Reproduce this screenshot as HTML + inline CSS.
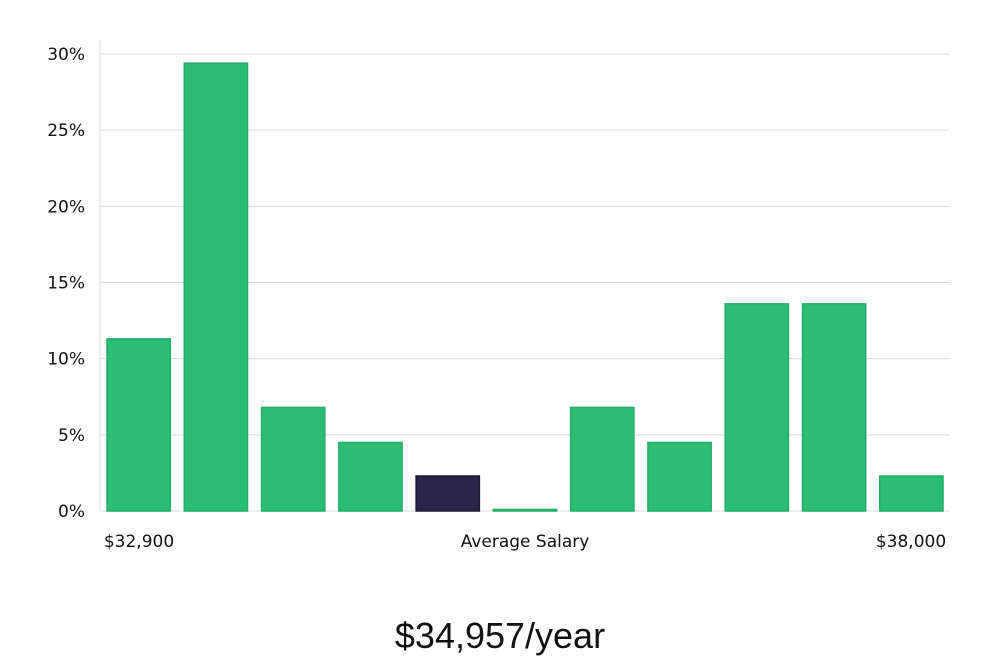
<!DOCTYPE html>
<html><head><meta charset="utf-8"><style>
body{margin:0;background:#fff;width:1000px;height:660px;overflow:hidden;font-family:"DejaVu Sans","Liberation Sans",sans-serif}
</style></head><body>
<svg width="1000" height="660">
<g id="grid"></g><g id="bars"></g><g id="labels"></g>
<text x="525" y="547" font-size="17" text-anchor="middle" fill="#111">Average Salary</text>
<text x="139" y="547" font-size="17" text-anchor="middle" fill="#111">$32,900</text>
<text x="911" y="547" font-size="17" text-anchor="middle" fill="#111">$38,000</text>
<text x="500" y="648" font-size="36" text-anchor="middle" fill="#111" font-family="Liberation Sans, sans-serif">$34,957/year</text>
</svg>
<script>
const categories=["b1","b2","b3","b4","b5","b6","b7","b8","b9","b10","b11"];
const values=[11.3,29.4,6.8,4.5,2.3,0.1,6.8,4.5,13.6,13.6,2.3];
const highlight=[false,false,false,false,true,false,false,false,false,false,false];
const yTicks=[0,5,10,15,20,25,30];
const yTickLabels=["0%","5%","10%","15%","20%","25%","30%"];
const NS="http://www.w3.org/2000/svg";
const x0=100,x1=950,yBase=511,yTop=54,yMax=30;
const y=v=>yBase-(v/yMax)*(yBase-yTop);
const slot=(x1-x0)/categories.length;
const grid=document.getElementById('grid'),bars=document.getElementById('bars'),labels=document.getElementById('labels');
function mk(tag,attrs,parent){const e=document.createElementNS(NS,tag);for(const k in attrs)e.setAttribute(k,attrs[k]);parent.appendChild(e);return e;}
const ax=mk('line',{x1:x0,x2:x0,y1:40,y2:yBase,stroke:'#ddd'},grid);


yTicks.forEach((t,i)=>{
 const l=mk('line',{x1:x0,x2:x1,y1:y(t),y2:y(t),stroke:'#dcdcdc'},grid);
 
 
 const tx=mk('text',{x:85,y:y(t)+6,'font-size':17,'text-anchor':'end',fill:'#111'},labels);
 tx.textContent=yTickLabels[i];
 
 
});
values.forEach((v,i)=>{
 const bx=x0+i*slot+7,bw=slot-14;
 const r=mk('rect',{x:bx,y:y(v),width:bw,height:yBase-y(v),fill:highlight[i]?'#2a2548':'#2bbd74',stroke:highlight[i]?'#1d1a33':'#25ad68','stroke-width':1.5},bars);
 
 
});
</script>
</body></html>
